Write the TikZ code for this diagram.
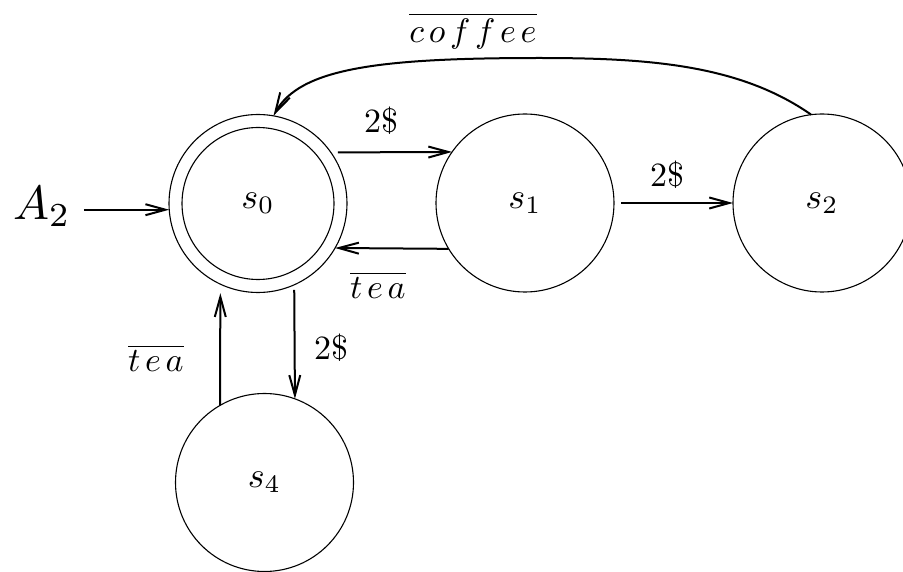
\documentclass[tikz,border=0pt]{standalone}
\usepackage{graphicx}
\usetikzlibrary{arrows.meta}
\begin{document}
\begin{tikzpicture}[x=1pt,y=-1pt,
  state/.style={circle,draw,line width=1.1pt,minimum size=178pt,inner sep=0pt,outer sep=0pt},
  arr/.style={line width=2pt,-{Straight Barb[length=20pt,width=11pt]}},
  lbl/.style={inner sep=0pt}]
\useasboundingbox (0,0) rectangle (903,572);
\node[state] (s0) at (258,203.5) {\scalebox{3.6}{$s_0$}};
\draw[line width=1.1pt] (s0.center) circle[radius=76pt];
\node[state] (s1) at (525,203) {\scalebox{3.6}{$s_1$}};
\node[state] (s2) at (822,203) {\scalebox{3.6}{$s_2$}};
\node[state] (s4) at (264.5,482.5) {\scalebox{3.6}{$s_4$}};
\node[inner sep=0pt] (A2) at (42,207) {\scalebox{4.8}{$A_2$}};
\node[lbl] (l1) at (381,121) {\scalebox{3.4}{2\$}};
\node[lbl] (l2) at (378,285) {\scalebox{3.4}{$\overline{t\mkern2.5mu e\mkern2.5mu a}$}};
\node[lbl] (l3) at (667,175) {\scalebox{3.4}{2\$}};
\node[lbl] (l4) at (156,358) {\scalebox{3.4}{$\overline{t\mkern2.5mu e\mkern2.5mu a}$}};
\node[lbl] (l5) at (331,348) {\scalebox{3.4}{2\$}};
\node[lbl] (l6) at (473,31) {\scalebox{3.4}{$\overline{c\mkern2.5mu o\mkern2.5mu f\mkern2.5mu f\mkern2.5mu e\mkern2.5mu e}$}};
\draw[arr,shorten <=7pt] (s0.35) -- (s1.145);
\draw[arr] (s1.211) -- (s0.330);
\draw[arr,shorten <=7pt] (s1.east) -- (s2.west);
\draw[arr] (s2.97) .. controls (740,65) and (650,58) .. (540,58) .. controls (380,58) and (300,68) .. (s0.80);
\draw[arr,shorten >=9pt] (s4.120) -- (s0.245);
\draw[arr,shorten <=5pt] (s0.294) -- (s4.70);
\draw[arr] ([xshift=13pt]A2.east |- s0.184) -- (s0.184);
\end{tikzpicture}
\end{document}
